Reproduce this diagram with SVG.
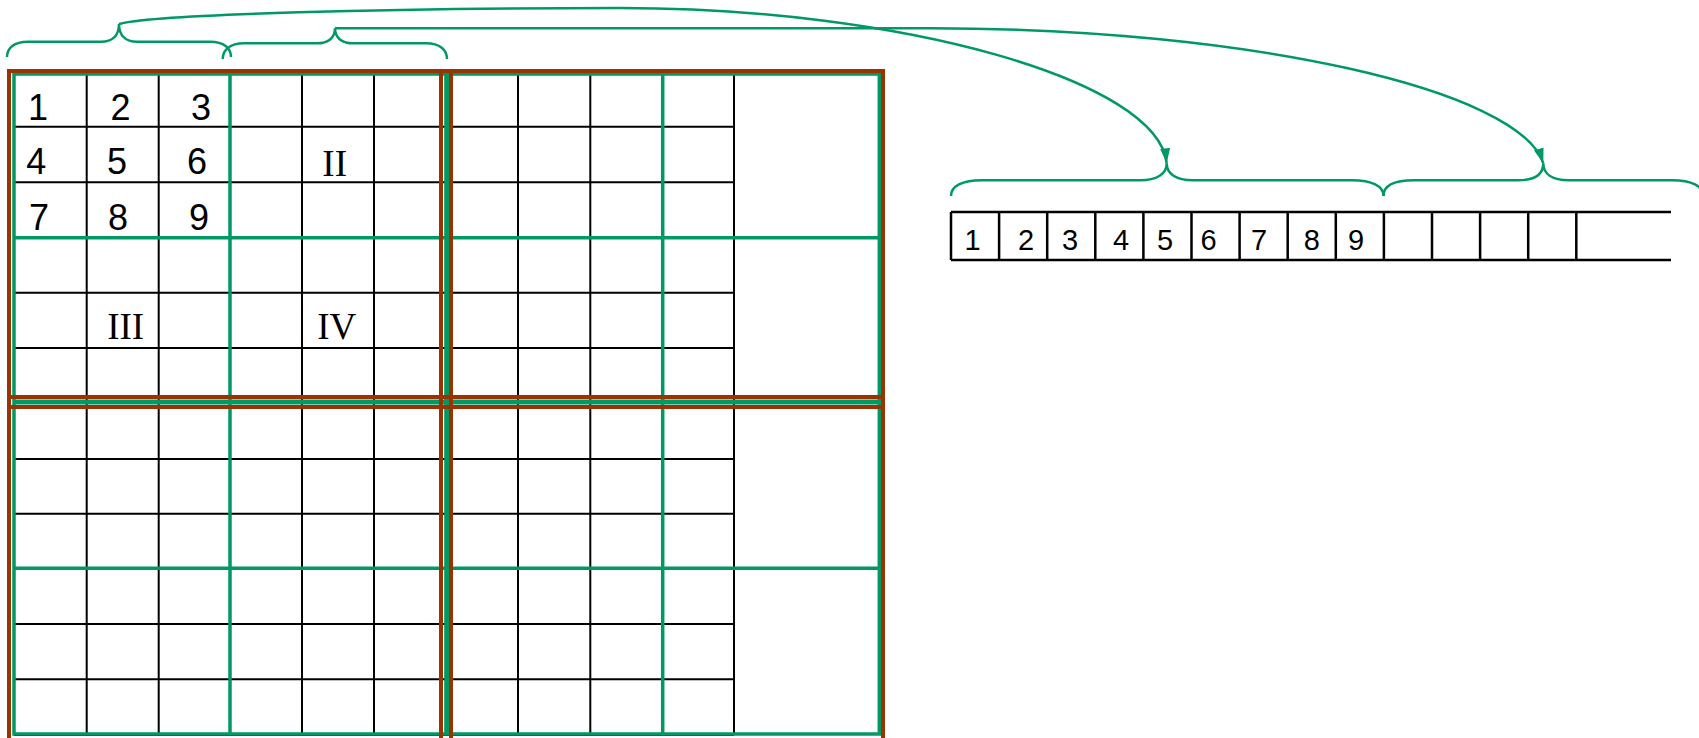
<svg xmlns="http://www.w3.org/2000/svg" width="1699" height="738" viewBox="0 0 1699 738">
<style>
.bk{stroke:#000;stroke-width:2;fill:none}
.gr{stroke:#009966;stroke-width:3.5;fill:none}
.grm{stroke:#009966;stroke-width:5;fill:none}
.br{stroke:#993300;stroke-width:4;fill:none}
.brace{stroke:#009966;stroke-width:2.5;fill:none}
.conn{stroke:#009966;stroke-width:2.5;fill:none}
.dg{font-family:"Liberation Sans",Arial,sans-serif;font-size:36px;fill:#000;text-anchor:middle}
.ad{font-family:"Liberation Sans",Arial,sans-serif;font-size:29px;fill:#000;text-anchor:middle}
.rn{font-family:"Liberation Serif","Times New Roman",serif;font-size:37px;fill:#000;text-anchor:middle}
.ar{stroke:#000;stroke-width:2.5;fill:none}
</style>
<defs>
<marker id="arr" viewBox="0 0 15 10" refX="15" refY="5" markerWidth="15" markerHeight="10" markerUnits="userSpaceOnUse" orient="auto">
<path d="M0,0 L15,5 L0,10 z" fill="#009966"/>
</marker>
</defs>
<rect width="1699" height="738" fill="#fff"/>

<g id="grid-cells">
<path class="bk" d="M86.7,74V734M158.7,74V734M230,74V734M302,74V734M374,74V734M446.7,74V734M518,74V734M590.3,74V734M662.7,74V734M734,74V735"/>
<path class="bk" d="M14,126.7H734M14,182.3H734M14,237.7H734M14,292.7H734M14,348H734M14,402H734M14,459H734M14,513.7H734M14,568.3H734M14,624H734M14,679.3H734M14,735H734"/>
</g>

<g id="green-blocks">
<rect class="gr" x="14" y="74" width="865.3" height="660"/>
<path class="gr" d="M230,74V734M662.7,74V734M14,237.7H879.3M14,568.3H879.3"/>
<path class="grm" d="M446.7,74V734M14,402H879.3"/>
</g>

<g id="brown-tiles">
<rect class="br" x="9" y="71" width="442" height="336"/>
<rect class="br" x="441" y="71" width="442" height="336"/>
<rect class="br" x="9" y="397" width="442" height="350"/>
<rect class="br" x="441" y="397" width="442" height="350"/>
</g>

<g id="grid-labels">
<text class="dg" x="38" y="120">1</text>
<text class="dg" x="120.5" y="120">2</text>
<text class="dg" x="201" y="120">3</text>
<text class="dg" x="36.3" y="174">4</text>
<text class="dg" x="117" y="174">5</text>
<text class="dg" x="197" y="174">6</text>
<text class="dg" x="39" y="230">7</text>
<text class="dg" x="118" y="230">8</text>
<text class="dg" x="199" y="230">9</text>
<text class="rn" x="334.7" y="175.7">II</text>
<text class="rn" x="125.7" y="339">III</text>
<text class="rn" x="336.8" y="339">IV</text>
</g>

<g id="left-braces">
<path class="brace" d="M7,57 C7,48 14,41.7 28,41.7 L101,41.7 C112,41.7 119,36 119,24 C119,36 126,41.7 137,41.7 L210,41.7 C224,41.7 231,48 231,57"/>
<path class="brace" d="M222.7,59 C222.7,50 230,43.3 244,43.3 L317,43.3 C328,43.3 335,38 335,28.3 C335,38 342,43.3 353,43.3 L426,43.3 C440,43.3 447,50 447,59"/>
</g>

<g id="array">
<path class="ar" d="M951,212H1671M951,260H1671"/>
<path class="ar" d="M951,212V260M999.1,212V260M1047.2,212V260M1095.3,212V260M1143.4,212V260M1191.5,212V260M1239.6,212V260M1287.7,212V260M1335.8,212V260M1383.9,212V260M1432,212V260M1480.1,212V260M1528.2,212V260M1576.3,212V260"/>
<text class="ad" x="972.5" y="250">1</text>
<text class="ad" x="1026" y="250">2</text>
<text class="ad" x="1070" y="250">3</text>
<text class="ad" x="1121" y="250">4</text>
<text class="ad" x="1165" y="250">5</text>
<text class="ad" x="1208.5" y="250">6</text>
<text class="ad" x="1259" y="250">7</text>
<text class="ad" x="1311.7" y="250">8</text>
<text class="ad" x="1356" y="250">9</text>
</g>

<g id="right-braces">
<path class="brace" d="M951,196 C951,186 962,180.3 982,180.3 L1140,180.3 C1157,180.3 1166.7,174 1166.7,163.3 C1166.7,174 1176,180.3 1193,180.3 L1352,180.3 C1372,180.3 1383.5,186 1383.5,196"/>
<path class="brace" d="M1383.5,196 C1383.5,186 1394,180.3 1414,180.3 L1518,180.3 C1535,180.3 1543.3,174 1543.3,163.3 C1543.3,174 1552,180.3 1569,180.3 L1672,180.3 C1692,180.3 1703,186 1703,196"/>
</g>

<g id="connectors">
<path class="conn" marker-end="url(#arr)" d="M119,24 C150,14 400,8 620,8 C900,8 1158,80 1166.7,163.3"/>
<path class="conn" marker-end="url(#arr)" d="M335,28.3 L930,28.3 C1250,28.3 1520,90 1543.3,163.3"/>
</g>
</svg>
